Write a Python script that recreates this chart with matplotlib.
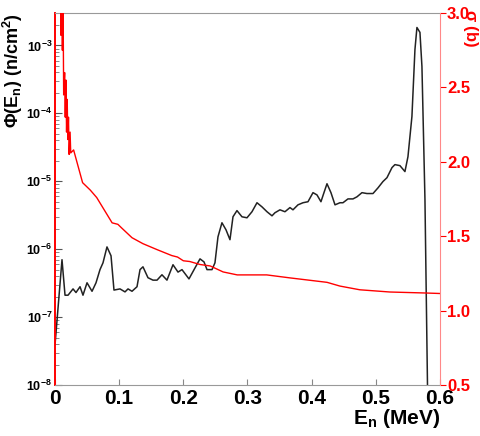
import numpy as np
import matplotlib
matplotlib.use('Agg')
import matplotlib.pyplot as plt
from matplotlib.ticker import LogLocator, NullFormatter

plt.rcParams['font.family'] = ['Liberation Sans', 'DejaVu Sans']
plt.rcParams['mathtext.fontset'] = 'custom'
plt.rcParams['mathtext.rm'] = 'Liberation Sans:bold'
plt.rcParams['mathtext.it'] = 'Liberation Sans:bold'
plt.rcParams['mathtext.bf'] = 'Liberation Sans:bold'

# neutron flux (left, log)
flux_e = [0.0, 0.0109, 0.0156, 0.0203, 0.0281, 0.0327, 0.0390, 0.0436, 0.0499, 0.0577,
          0.0639, 0.0701, 0.0748, 0.0810, 0.0873, 0.0919, 0.1013, 0.1091, 0.1138, 0.1200,
          0.1278, 0.1325, 0.1371, 0.1449, 0.1527, 0.1590, 0.1667, 0.1745, 0.1839, 0.1917,
          0.1979, 0.2088, 0.2182, 0.2260, 0.2322, 0.2369, 0.2447, 0.2493, 0.2540, 0.2602,
          0.2665, 0.2727, 0.2774, 0.2836, 0.2914, 0.2992, 0.3070, 0.3148, 0.3226, 0.3304,
          0.3382, 0.3428, 0.3506, 0.3584, 0.3662, 0.3709, 0.3787, 0.3865, 0.3943, 0.4021,
          0.4083, 0.4145, 0.4192, 0.4239, 0.4301, 0.4364, 0.4441, 0.4488, 0.4566, 0.4644,
          0.4706, 0.4784, 0.4862, 0.4956, 0.5034, 0.5111, 0.5174, 0.5252, 0.5298, 0.5376,
          0.5454, 0.5501, 0.5563, 0.5610, 0.5641, 0.5688, 0.5719, 0.5766, 0.5813]
flux = [3.9e-8, 7.0e-7, 2.1e-7, 2.1e-7, 2.6e-7, 2.3e-7, 2.8e-7, 2.1e-7, 3.2e-7, 2.4e-7,
        3.2e-7, 5.0e-7, 6.3e-7, 1.08e-6, 8.0e-7, 2.5e-7, 2.6e-7, 2.35e-7, 2.6e-7, 2.4e-7,
        2.8e-7, 5.0e-7, 5.5e-7, 3.8e-7, 3.5e-7, 3.5e-7, 4.2e-7, 3.5e-7, 5.9e-7, 4.6e-7,
        5.0e-7, 3.65e-7, 5.3e-7, 7.2e-7, 6.5e-7, 5.0e-7, 5.0e-7, 6.3e-7, 1.52e-6, 2.45e-6,
        1.93e-6, 1.38e-6, 3.0e-6, 3.7e-6, 3.0e-6, 2.9e-6, 3.56e-6, 4.83e-6, 4.2e-6, 3.56e-6,
        3.1e-6, 3.44e-6, 3.8e-6, 3.56e-6, 4.1e-6, 3.8e-6, 4.5e-6, 4.83e-6, 5.0e-6, 6.8e-6,
        6.3e-6, 5.0e-6, 6.8e-6, 9.2e-6, 6.8e-6, 4.5e-6, 4.83e-6, 4.83e-6, 5.5e-6, 5.5e-6,
        5.9e-6, 6.8e-6, 6.6e-6, 6.6e-6, 8.0e-6, 9.9e-6, 1.13e-5, 1.59e-5, 1.76e-5, 1.7e-5,
        1.39e-5, 2.3e-5, 9.0e-5, 8.7e-4, 1.84e-3, 1.56e-3, 4.9e-4, 5.4e-6, 3e-9]

# cross section (right, linear)
xs_e = [0.0065, 0.0085, 0.0095, 0.0105, 0.0115, 0.0125, 0.0135, 0.0150, 0.0160, 0.0170,
        0.0180, 0.0190, 0.0200, 0.0210, 0.0220, 0.0235, 0.0245, 0.0290, 0.0430, 0.0550,
        0.0650, 0.0890, 0.0980, 0.1040, 0.1200, 0.1370, 0.1590, 0.1820, 0.1910, 0.2000,
        0.2100, 0.2260, 0.2420, 0.2620, 0.2840, 0.3000, 0.3300, 0.3660, 0.4240, 0.4440,
        0.4750, 0.5220, 0.5800, 0.6000]
xs = [4.0, 3.3, 2.85, 3.2, 2.75, 3.1, 2.45, 2.6, 2.3, 2.55,
      2.2, 2.42, 2.15, 2.3, 2.05, 2.2, 2.06, 2.08, 1.86, 1.81,
      1.76, 1.59, 1.58, 1.555, 1.49, 1.45, 1.41, 1.37, 1.36, 1.335,
      1.33, 1.31, 1.30, 1.26, 1.24, 1.24, 1.24, 1.22, 1.19, 1.165,
      1.14, 1.125, 1.118, 1.115]

fig = plt.figure(figsize=(4.8, 4.36), dpi=100)
ax = fig.add_axes([0.1146, 0.117, 0.802, 0.853])
ax.plot(flux_e, flux, color='#222222', lw=1.1)
ax.set_yscale('log')
ax.set_xlim(0, 0.6)
ax.set_ylim(1e-8, 3e-3)
ax.set_xticks([0, 0.1, 0.2, 0.3, 0.4, 0.5, 0.6])
ax.set_xticklabels(['0', '0.1', '0.2', '0.3', '0.4', '0.5', '0.6'],
                   fontsize=15, fontweight='bold')
ax.tick_params(axis='x', direction='in', length=4, color='#888888', pad=3)
ax.set_yticks([1e-8, 1e-7, 1e-6, 1e-5, 1e-4, 1e-3])
ax.set_yticklabels([r'$10^{-8}$', r'$10^{-7}$', r'$10^{-6}$', r'$10^{-5}$',
                    r'$10^{-4}$', r'$10^{-3}$'], fontsize=9)
ax.yaxis.set_minor_locator(LogLocator(base=10, subs=np.arange(2, 10)))
ax.yaxis.set_minor_formatter(NullFormatter())
ax.tick_params(axis='y', which='major', direction='in', length=5, color='#555555', pad=2)
ax.tick_params(axis='y', which='minor', direction='in', length=3, color='#777777')
ax.set_ylabel(r'$\Phi$(E$_{n}$) (n/cm$^{2}$)', fontsize=13, fontweight='bold',
              loc='top', labelpad=1)
ax.set_xlabel(r'E$_{n}$ (MeV)', fontsize=15, fontweight='bold', loc='right', labelpad=-1)
ax.spines['top'].set_color('#999999')
ax.spines['bottom'].set_color('#999999')
ax.spines['left'].set_color('red')
ax.spines['left'].set_linewidth(1.4)
ax.spines['right'].set_visible(False)

ax2 = ax.twinx()
ax2.plot(xs_e, xs, color='red', lw=1.0)
ax2.set_ylim(0.5, 3.0)
ax2.set_yticks([0.5, 1.0, 1.5, 2.0, 2.5, 3.0])
ax2.set_yticklabels(['0.5', '1.0', '1.5', '2.0', '2.5', '3.0'], fontsize=12,
                    fontweight='bold', color='red')
ax2.tick_params(axis='y', direction='out', length=4, color='red', pad=1)
for s in ['top', 'bottom', 'left']:
    ax2.spines[s].set_visible(False)
ax2.spines['right'].set_color('#ff8888')
fig.text(0.98, 0.98, r'$\sigma$ (b)', fontsize=12, fontweight='bold', color='red',
         rotation=270, ha='center', va='top')

fig.savefig('out.png', dpi=100)
